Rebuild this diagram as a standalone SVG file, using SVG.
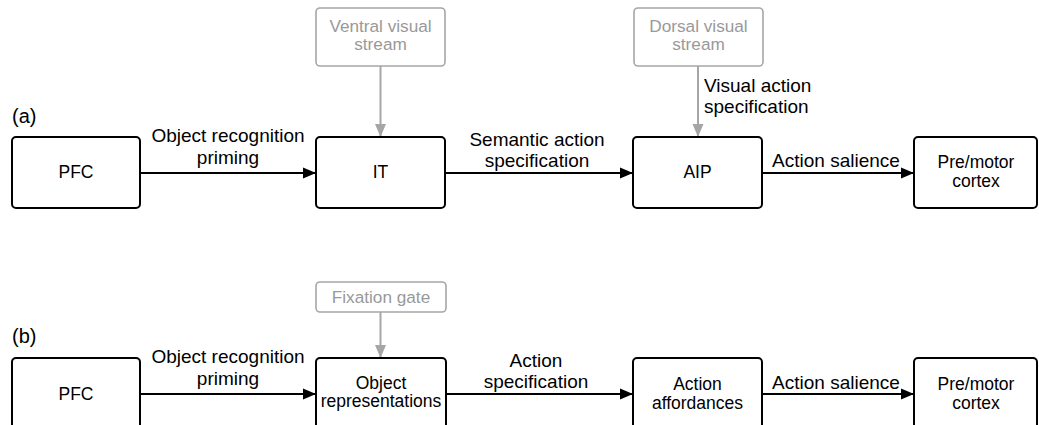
<svg xmlns="http://www.w3.org/2000/svg" width="1039" height="425" viewBox="0 0 1039 425">
  <style>
    text { font-family: "Liberation Sans", Arial, sans-serif; }
    .node rect { fill: #ffffff; stroke: #000000; stroke-width: 2; }
    .input rect { fill: #ffffff; stroke: #a6a6a6; stroke-width: 1.6; }
    .node text { font-size: 17.5px; fill: #000000; text-anchor: middle; }
    .input text { font-size: 17.2px; fill: #999999; text-anchor: middle; }
    .label { font-size: 19px; fill: #000000; text-anchor: middle; }
    .panel { font-size: 20px; fill: #000000; }
    .edge { stroke: #000000; stroke-width: 2; fill: none; marker-end: url(#head); }
    .edge-grey { stroke: #a6a6a6; stroke-width: 2; fill: none; marker-end: url(#head-grey); }
  </style>
  <defs>
    <marker id="head" markerUnits="userSpaceOnUse" markerWidth="14" markerHeight="12" refX="13" refY="6" orient="auto">
      <path d="M0,0.5 L13,6 L0,11.5 z" fill="#000000"/>
    </marker>
    <marker id="head-grey" markerUnits="userSpaceOnUse" markerWidth="14" markerHeight="12" refX="13" refY="6" orient="auto">
      <path d="M0,0.5 L13,6 L0,11.5 z" fill="#a6a6a6"/>
    </marker>
  </defs>

  <rect width="1039" height="425" fill="#ffffff"/>

  <!-- panel labels -->
  <text class="panel" x="12" y="123">(a)</text>
  <text class="panel" x="12" y="343">(b)</text>

  <!-- connectors -->
  <g id="connectors">
    <!-- row (a) -->
    <line class="edge" x1="140" y1="173" x2="316" y2="173"/>
    <line class="edge" x1="445" y1="173" x2="633" y2="173"/>
    <line class="edge" x1="762" y1="173" x2="914" y2="173"/>
    <line class="edge-grey" x1="380.5" y1="66" x2="380.5" y2="137"/>
    <line class="edge-grey" x1="698" y1="66" x2="698" y2="137"/>
    <!-- row (b) -->
    <line class="edge" x1="140" y1="394" x2="316" y2="394"/>
    <line class="edge" x1="446" y1="394" x2="633" y2="394"/>
    <line class="edge" x1="762" y1="394" x2="914" y2="394"/>
    <line class="edge-grey" x1="380.5" y1="312" x2="380.5" y2="358"/>

    <!-- connector labels -->
    <text class="label" x="228" y="142">Object recognition</text>
    <text class="label" x="228" y="164">priming</text>
    <text class="label" x="537" y="146">Semantic action</text>
    <text class="label" x="537" y="167">specification</text>
    <text class="label" x="704" y="92" style="text-anchor:start">Visual action</text>
    <text class="label" x="704" y="113" style="text-anchor:start">specification</text>
    <text class="label" x="836" y="167">Action salience</text>

    <text class="label" x="228" y="363">Object recognition</text>
    <text class="label" x="228" y="385">priming</text>
    <text class="label" x="536" y="367">Action</text>
    <text class="label" x="536" y="388">specification</text>
    <text class="label" x="836" y="389">Action salience</text>
  </g>

  <!-- row (a) nodes -->
  <g id="a-ventral" class="input">
    <rect x="316" y="8" width="129" height="58" rx="4"/>
    <text x="380.5" y="32">Ventral visual</text>
    <text x="380.5" y="50">stream</text>
  </g>
  <g id="a-dorsal" class="input">
    <rect x="634" y="8" width="129" height="58" rx="4"/>
    <text x="698.5" y="32">Dorsal visual</text>
    <text x="698.5" y="50">stream</text>
  </g>
  <g id="a-pfc" class="node">
    <rect x="12" y="137" width="128" height="71" rx="4"/>
    <text x="76" y="178">PFC</text>
  </g>
  <g id="a-it" class="node">
    <rect x="316" y="137" width="129" height="71" rx="4"/>
    <text x="380.5" y="178">IT</text>
  </g>
  <g id="a-aip" class="node">
    <rect x="633" y="137" width="129" height="71" rx="4"/>
    <text x="697.5" y="178">AIP</text>
  </g>
  <g id="a-premotor" class="node">
    <rect x="914" y="137" width="123" height="71" rx="4"/>
    <text x="976" y="168">Pre/motor</text>
    <text x="976" y="187">cortex</text>
  </g>

  <!-- row (b) nodes -->
  <g id="b-fixation" class="input">
    <rect x="316" y="282" width="130" height="30" rx="4"/>
    <text x="381" y="303">Fixation gate</text>
  </g>
  <g id="b-pfc" class="node">
    <rect x="12" y="358" width="128" height="71" rx="4"/>
    <text x="76" y="400">PFC</text>
  </g>
  <g id="b-objects" class="node">
    <rect x="316" y="358" width="130" height="71" rx="4"/>
    <text x="381" y="389">Object</text>
    <text x="381" y="407">representations</text>
  </g>
  <g id="b-affordances" class="node">
    <rect x="633" y="358" width="129" height="71" rx="4"/>
    <text x="697.5" y="390">Action</text>
    <text x="697.5" y="409">affordances</text>
  </g>
  <g id="b-premotor" class="node">
    <rect x="914" y="358" width="123" height="71" rx="4"/>
    <text x="976" y="390">Pre/motor</text>
    <text x="976" y="409">cortex</text>
  </g>
</svg>
